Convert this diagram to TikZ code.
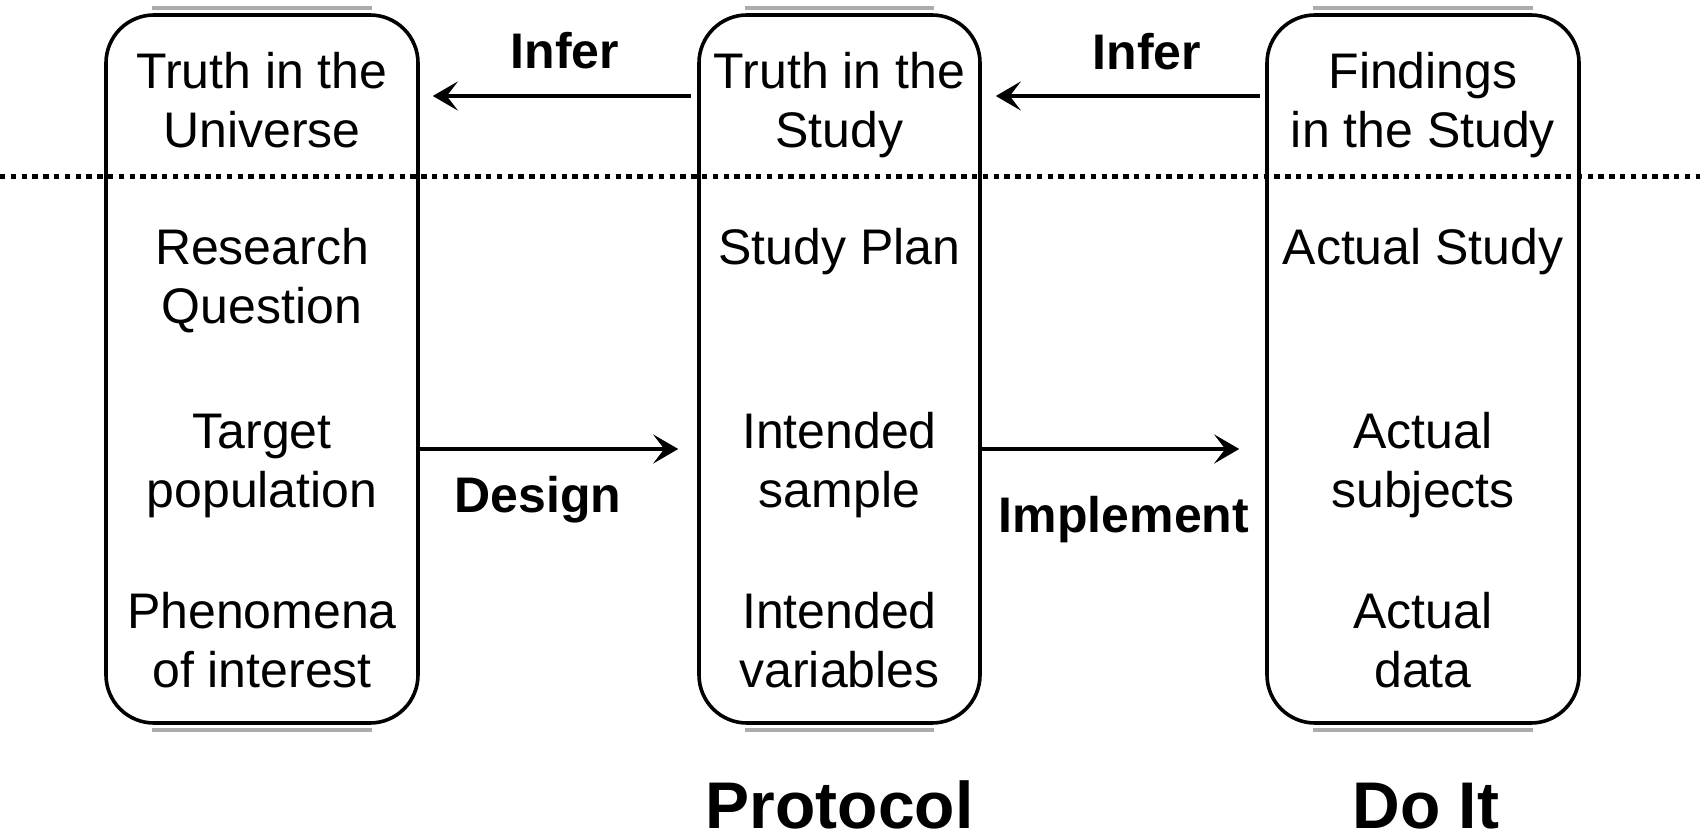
\documentclass[tikz,border=0pt]{standalone}
\usepackage{fontspec}
\setmainfont{Liberation Sans}
\usetikzlibrary{arrows.meta,calc}

\newcommand{\boxfont}{\fontsize{25}{29.5}\selectfont}
\newcommand{\tagfont}{\fontsize{25}{29.5}\selectfont\bfseries}
\newcommand{\headfont}{\fontsize{33}{40}\selectfont\bfseries}

\tikzset{
	panel/.style={draw, line width=1.8pt, rounded corners=24pt, inner sep=0pt, minimum height=354pt},
	rim/.style={gray!65, line width=2pt},
	item/.style={font=\boxfont, align=center, inner sep=0pt},
	tag/.style={font=\tagfont, anchor=base, inner sep=0pt},
	head/.style={font=\headfont, anchor=base, inner sep=0pt},
	flow/.style={line width=2.2pt, -{Stealth[length=12.5pt,width=14.5pt,inset=5.5pt]}},
}

\begin{document}
\begin{tikzpicture}[x=0.5pt,y=0.5pt,yscale=-1,xscale=1]
	\useasboundingbox (0,0) rectangle (1700,839);

	%Shape: Rounded Rect
	\node [panel, minimum width=156pt] (universe) at (262,369) {};
	%Shape: Rounded Rect
	\node [panel, minimum width=140.5pt] (plan) at (839.5,369) {};
	%Shape: Rounded Rect
	\node [panel, minimum width=156pt] (actual) at (1423,369) {};

	%gray rims on the flat top and bottom sides
	\foreach \b in {universe,plan,actual} {
		\draw [rim] ($(\b.north west)+(48,-5)$) -- ($(\b.north east)+(-48,-5)$);
		\draw [rim] ($(\b.south west)+(48,5)$) -- ($(\b.south east)+(-48,5)$);
	}

	%Straight Lines: dotted divider
	\coordinate (divL) at (0,177);
	\coordinate (divR) at (1700,177);
	\draw [line width=2.5pt, dash pattern={on 2.7pt off 2.7pt}] (divL) -- (divR);

	% Text Node
	\node [item] (u1) at (262,106) {\strut Truth in the\\\strut Universe};
	\node [item] (u2) at (262,282) {\strut Research\\\strut Question};
	\node [item] (u3) at (262,466) {\strut Target\\\strut population};
	\node [item] (u4) at (262,646) {\strut Phenomena\\\strut of interest};

	% Text Node
	\node [item] (p1) at (839.5,106) {\strut Truth in the\\\strut Study};
	\node [item] (p2) at (839.5,253) {\strut Study Plan};
	\node [item] (p3) at (839.5,466) {\strut Intended\\\strut sample};
	\node [item] (p4) at (839.5,646) {\strut Intended\\\strut variables};

	% Text Node
	\node [item] (a1) at (1423,106) {\strut Findings\\\strut in the Study};
	\node [item] (a2) at (1423,253) {\strut Actual Study};
	\node [item] (a3) at (1423,466) {\strut Actual\\\strut subjects};
	\node [item] (a4) at (1423,646) {\strut Actual\\\strut data};

	%Straight Lines: arrows between the boxes
	\coordinate (inferY) at (0,96);
	\coordinate (doY) at (0,449);
	\draw [flow, shorten <=3pt, shorten >=6.5pt] (plan.west |- inferY) -- (universe.east |- inferY);
	\draw [flow, shorten <=2.5pt, shorten >=7pt] (actual.west |- inferY) -- (plan.east |- inferY);
	\draw [flow, shorten >=9.5pt] (universe.east |- doY) -- (plan.west |- doY);
	\draw [flow, shorten >=13pt] (plan.east |- doY) -- (actual.west |- doY);

	% Text Node
	\node [tag] (infer1) at (565,69) {Infer};
	\node [tag] (infer2) at (1147,70) {Infer};
	\node [tag] (design) at (538,512) {Design};
	\node [tag] (implement) at (1124,532) {Implement};

	% Text Node
	\node [head] (protocol) at (839.5,828) {Protocol};
	\node [head] (doit) at (1426,828) {Do It};

\end{tikzpicture}
\end{document}
